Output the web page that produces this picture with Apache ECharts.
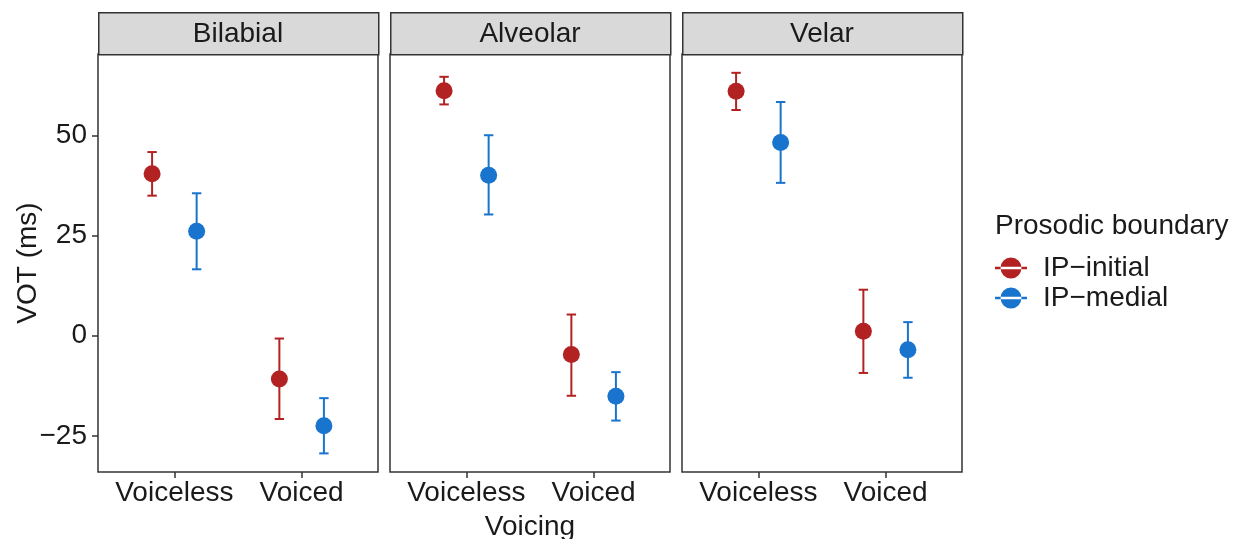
<!DOCTYPE html>
<html>
<head>
<meta charset="utf-8">
<script src="https://cdn.jsdelivr.net/npm/echarts@6/dist/echarts.min.js"></script>
<style>html,body{margin:0;padding:0;background:#fff}#c{width:1244px;height:539px}</style>
</head>
<body>
<div id="c"></div>
<script>
// ---- data ----
const places = ['Bilabial', 'Alveolar', 'Velar'];
const voicing = ['Voiceless', 'Voiced'];
const groups = ['IP\u2212initial', 'IP\u2212medial'];
const yTicks = [-25, 0, 25, 50];
// per place: [Voiceless, Voiced]
const initialMean = [[40.5, -10.8], [61.2, -4.7], [61.1, 1.1]];
const initialLow  = [[35.0, -20.8], [57.8, -15.0], [56.4, -9.3]];
const initialHigh = [[45.9, -0.7], [64.7, 5.3], [65.7, 11.5]];
const medialMean  = [[26.1, -22.5], [40.1, -15.1], [48.3, -3.5]];
const medialLow   = [[16.6, -29.4], [30.3, -21.2], [38.2, -10.5]];
const medialHigh  = [[35.6, -15.6], [50.1, -9.1], [58.4, 3.4]];

// ---- style / layout ----
const FONT = '"Liberation Sans", Arial, Helvetica, sans-serif';
const FS = 28;
const TXT = '#1a1a1a';
const colors = ['#B22222', '#1874CD'];
const dodge = 0.175;
const panelLeft = [98, 390, 682];
const panelW = 280, panelTop = 54, panelH = 418;
const stripTop = 12;
const yMin = -34.05, yMax = 70.4;

const chart = echarts.init(document.getElementById('c'), null, {renderer: 'canvas'});

const grids = [], xAxes = [], yAxes = [], series = [], graphics = [];
const groupData = [
  [initialMean, initialLow, initialHigh],
  [medialMean, medialLow, medialHigh]
];

places.forEach((p, i) => {
  grids.push({left: panelLeft[i], top: panelTop, width: panelW, height: panelH,
    show: true, borderColor: '#333', borderWidth: 1.5, backgroundColor: '#fff', containLabel: false});
  xAxes.push({type: 'value', gridIndex: i, min: 0.4, max: 2.6, position: 'bottom',
    splitLine: {show: false}, axisLine: {show: false, onZero: false},
    axisTick: {show: true, length: 6, lineStyle: {color: '#333', width: 1.5}, customValues: [1, 2]},
    axisLabel: {show: true, customValues: [1, 2], margin: 7, color: TXT, fontSize: FS, fontFamily: FONT,
      formatter: v => voicing[Math.round(v) - 1]}
  });
  yAxes.push({type: 'value', gridIndex: i, min: yMin, max: yMax, position: 'left',
    splitLine: {show: false}, axisLine: {show: false, onZero: false},
    axisTick: {show: i === 0, length: 6, lineStyle: {color: '#333', width: 1.5}, customValues: yTicks},
    axisLabel: {show: i === 0, customValues: yTicks, margin: 11, color: TXT, fontSize: FS, fontFamily: FONT,
      formatter: v => (v < 0 ? '\u2212' + Math.abs(v) : String(v))}
  });
  // strip
  graphics.push({type: 'rect', left: panelLeft[i], top: stripTop, z: 10,
    shape: {width: panelW, height: panelTop - stripTop},
    style: {fill: '#d9d9d9', stroke: '#333', lineWidth: 1.5}});
  graphics.push({type: 'text', z: 11, x: panelLeft[i] + panelW / 2, y: (stripTop + panelTop) / 2 + 1.5,
    style: {text: p, fill: TXT, font: FS + 'px ' + FONT, textAlign: 'center', textVerticalAlign: 'middle'}});

  groups.forEach((g, k) => {
    const [m, lo, hi] = groupData[k];
    const off = k === 0 ? -dodge : dodge;
    const pts = voicing.map((v, j) => [j + 1 + off, m[i][j]]);
    const bars = voicing.map((v, j) => [j + 1 + off, lo[i][j], hi[i][j]]);
    series.push({
      type: 'custom', name: g, xAxisIndex: i, yAxisIndex: i, z: 2, silent: true,
      itemStyle: {color: colors[k]},
      data: bars,
      renderItem: (params, api) => {
        const x = api.value(0);
        const a = api.coord([x, api.value(1)]);
        const b = api.coord([x, api.value(2)]);
        const cw = 4.7;
        const st = {stroke: colors[k], lineWidth: 2};
        return {type: 'group', children: [
          {type: 'line', shape: {x1: a[0], y1: a[1], x2: b[0], y2: b[1]}, style: st},
          {type: 'line', shape: {x1: a[0] - cw, y1: a[1], x2: a[0] + cw, y2: a[1]}, style: st},
          {type: 'line', shape: {x1: b[0] - cw, y1: b[1], x2: b[0] + cw, y2: b[1]}, style: st}
        ]};
      }
    });
    series.push({
      type: 'scatter', name: g, xAxisIndex: i, yAxisIndex: i, z: 3,
      symbol: 'circle', symbolSize: 17, itemStyle: {color: colors[k], opacity: 1},
      data: pts
    });
  });
});

// axis titles and legend title
graphics.push({type: 'text', x: 28, y: panelTop + panelH / 2, rotation: Math.PI / 2,
  style: {text: 'VOT (ms)', fill: TXT, font: FS + 'px ' + FONT, textAlign: 'center', textVerticalAlign: 'middle'}});
graphics.push({type: 'text', x: (panelLeft[0] + panelLeft[2] + panelW) / 2, y: 527,
  style: {text: 'Voicing', fill: TXT, font: FS + 'px ' + FONT, textAlign: 'center', textVerticalAlign: 'middle'}});
graphics.push({type: 'text', x: 995, y: 226,
  style: {text: 'Prosodic boundary', fill: TXT, font: FS + 'px ' + FONT, textAlign: 'left', textVerticalAlign: 'middle'}});

const keyIcon = 'path://M0,7.5h26v2h-26z M13,0a8.5,8.5 0 1 0 0.001,0z';

chart.setOption({
  animation: false,
  grid: grids, xAxis: xAxes, yAxis: yAxes, series: series, graphic: graphics,
  legend: {
    orient: 'vertical', left: 995, top: 254, itemWidth: 32, itemHeight: 21, itemGap: 2,
    selectedMode: false, padding: 0,
    data: groups.map((g, k) => ({name: g, icon: keyIcon, itemStyle: {color: colors[k]}})),
    textStyle: {color: TXT, fontSize: FS, fontFamily: FONT, padding: [0, 0, 0, 11], lineHeight: 28}
  }
});
</script>
</body>
</html>
